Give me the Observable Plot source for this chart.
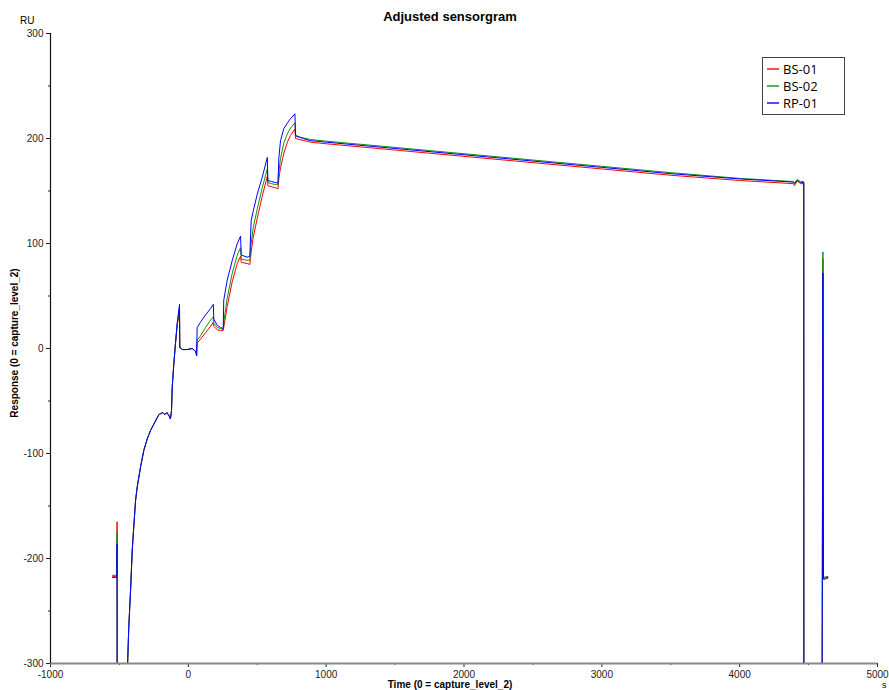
<!DOCTYPE html>
<html>
<head>
<meta charset="utf-8">
<script src="https://cdn.jsdelivr.net/npm/d3@7"></script>
<script src="https://cdn.jsdelivr.net/npm/@observablehq/plot@0.6"></script>
<style>
  html, body { margin: 0; padding: 0; background: #fff; }
  #wrap { position: relative; width: 889px; height: 690px; overflow: hidden; font-family: "Liberation Sans", Arial, sans-serif; }
  #title { position: absolute; left: 0; width: 900px; top: 9px; text-align: center; font-weight: bold; font-size: 13px; color: #000; }
  #ru { position: absolute; left: 20px; top: 15px; font-size: 10px; color: #000; }
  #ylab { position: absolute; left: 14px; top: 343px; transform: translate(-50%, -50%) rotate(-90deg); font-weight: bold; font-size: 10px; white-space: nowrap; color: #000; }
  #xlab { position: absolute; left: 0; width: 900px; top: 679px; text-align: center; font-weight: bold; font-size: 10px; color: #000; }
  #sunit { position: absolute; left: 882px; top: 681px; font-size: 9px; line-height: 9px; color: #000; }
  #chart { position: absolute; left: 0; top: 0; }
  #legend { position: absolute; left: 762px; top: 57px; }
</style>
</head>
<body>
<div id="wrap"></div>
<script>
// ---- data ----
const seriesNames = ["BS-01", "BS-02", "RP-01"];
const seriesColors = ["#ff0000", "#109010", "#0000ff"];

const times = [-550, -518, -517, -516, -444, -443, -432, -419, -407, -396, -383, -371, -347, -323, -298, -274, -238, -214, -200, -185, -170, -155, -140, -130, -125, -122, -117, -105, -93, -81, -64, -62, -42, -8, 28, 55, 60, 64, 88, 125, 161, 181, 185, 210, 233, 253, 257, 282, 319, 355, 379, 384, 427, 446, 456, 471, 500, 536, 573, 577, 604, 633, 650, 657, 669, 693, 720, 742, 773, 778, 838, 887, 1000, 1500, 2000, 2500, 3000, 3500, 4000, 4390, 4398, 4418, 4440, 4465, 4466, 4597, 4600, 4604, 4608, 4640];

const bs01 = [-217, -217, -165, -400, -400, -310, -265, -230, -192, -170, -145, -132, -113, -97, -86, -78, -69, -63, -62, -61, -63, -61, -64, -67, -62, -59, -37, -14, 5, 22, 35, 1, -1, -1, 0, -3, -7, 5, 9, 15, 21, 25, 21, 18, 17, 17, 20, 40, 64, 81, 88, 82, 81, 80, 92, 106, 124, 145, 164, 155, 154, 153, 152, 162, 172, 186, 197, 203, 209, 200, 198, 196.5, 195, 189, 183, 177, 171, 165, 160, 157, 155, 160, 157, 157, -400, -400, -214, 85, -220, -219];

const bs02 = [-216, -216, -175, -400, -400, -310, -265, -230, -192, -170, -145, -132, -113, -97, -86, -78, -69, -63, -62, -61, -63, -61, -64, -67, -62, -59, -37, -14, 5, 23, 38, 1, -1, -1, 0, -3, -7, 8, 12, 20, 27, 30, 24, 20, 19, 18, 25, 48, 72, 89, 96, 85, 84, 84, 100, 115, 133, 153, 171, 158, 157, 156, 156, 168, 181, 196, 205, 210, 215, 202, 200.5, 199, 197.5, 191.5, 185.5, 179.5, 173.5, 167.5, 162, 159, 158, 161, 159, 159, -400, -400, -210, 92, -218, -217];

const rp01 = [-218, -218, -186, -400, -400, -310, -265, -230, -192, -170, -145, -132, -113, -97, -86, -78, -69, -63, -62, -61, -63, -61, -64, -67, -62, -59, -37, -14, 5, 24, 42, 1, -1, -1, 0, -3, -7, 20, 25, 32, 38, 42, 28, 22, 20, 19, 46, 65, 84, 100, 107, 89, 87, 87.6, 122, 131, 147, 163, 182, 160, 159, 158, 157.5, 182, 198, 209.5, 215, 219, 223.5, 203, 199.7, 198, 196.5, 190.5, 184.5, 178.5, 172.5, 166.5, 161.5, 158.5, 157, 160, 158, 158, -400, -400, -212, 72, -219, -218];

const xMajor = [-1000, 0, 1000, 2000, 3000, 4000, 5000];
const xMinor = [-500, 500, 1500, 2500, 3500, 4500];
const yMajor = [-300, -200, -100, 0, 100, 200, 300];
const yMinor = [-250, -150, -50, 50, 150, 250];

// ---- build long table ----
const seriesValues = [bs01, bs02, rp01];
const rows = [];
seriesNames.forEach((name, i) => {
  times.forEach((t, j) => rows.push({t, v: seriesValues[i][j], series: name}));
});

const chart = Plot.plot({
  width: 889,
  height: 690,
  marginLeft: 50,
  marginRight: 12,
  marginTop: 33,
  marginBottom: 27,
  style: {fontFamily: "'Liberation Sans', Arial, sans-serif", fontSize: "10px", color: "#222", background: "transparent"},
  x: {domain: [-1000, 5000]},
  y: {domain: [-300, 300]},
  color: {domain: seriesNames, range: seriesColors},
  marks: [
    Plot.axisX({ticks: xMajor, tickSize: 4, tickPadding: 3, label: null, tickFormat: d => String(d)}),
    Plot.axisX({ticks: xMinor, tickSize: 2, tickFormat: () => "", label: null}),
    Plot.axisY({ticks: yMajor, tickSize: 4, tickPadding: 3, label: null, tickFormat: d => String(d)}),
    Plot.axisY({ticks: yMinor, tickSize: 2, tickFormat: () => "", label: null}),
    Plot.line(rows, {x: "t", y: "v", z: "series", stroke: "series", strokeWidth: 1, clip: true}),
    Plot.ruleY([-300], {stroke: "#888", strokeWidth: 2}),
    Plot.ruleX([-1000], {stroke: "#111", strokeWidth: 1.2})
  ]
});
chart.id = "chart";

const wrap = document.getElementById("wrap");
wrap.appendChild(chart);

function addDiv(id, text) {
  const d = document.createElement("div");
  d.id = id;
  d.textContent = text;
  wrap.appendChild(d);
  return d;
}
addDiv("title", "Adjusted sensorgram");
addDiv("ru", "RU");
addDiv("ylab", "Response (0 = capture_level_2)");
addDiv("xlab", "Time (0 = capture_level_2)");
addDiv("sunit", "s");

// legend as a small svg
const lg = d3.select(wrap).append("svg")
  .attr("id", "legend")
  .attr("width", 84).attr("height", 59);
lg.append("rect").attr("x", 0.5).attr("y", 0.5).attr("width", 82).attr("height", 57)
  .attr("fill", "#fff").attr("stroke", "#444").attr("stroke-width", 1);
seriesNames.forEach((name, i) => {
  const cy = 12 + i * 17;
  lg.append("line").attr("x1", 5).attr("x2", 17).attr("y1", cy).attr("y2", cy)
    .attr("stroke", seriesColors[i]).attr("stroke-width", 1.4);
  lg.append("text").attr("x", 21).attr("y", cy + 0.5).attr("dy", "0.35em")
    .attr("font-family", "'Open Sans', 'Liberation Sans', sans-serif")
    .attr("font-size", 13).attr("fill", "#000").text(name);
});
</script>
</body>
</html>
